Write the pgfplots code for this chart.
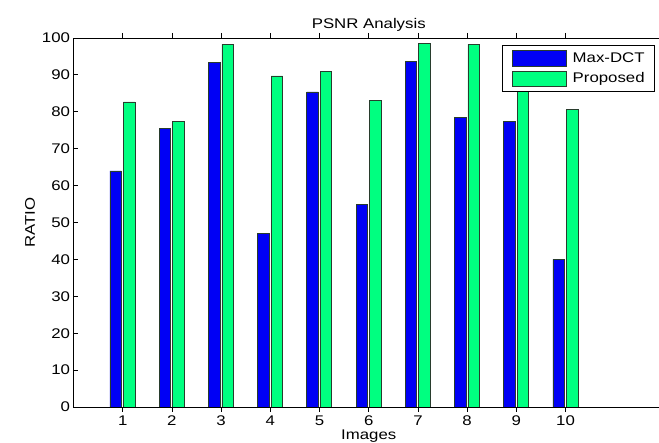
\documentclass[border=0pt]{standalone}
\usepackage{fontspec}
\setmainfont{Liberation Sans}[FakeStretch=1.2]
\usepackage{pgfplots}
\pgfplotsset{compat=1.18}

\definecolor{mblue}{RGB}{0,0,245}
\definecolor{mgreen}{RGB}{0,255,128}
\definecolor{edge}{RGB}{40,60,45}

\begin{document}
\begin{tikzpicture}[x=1pt,y=1pt]
\begin{axis}[
  name=ax,
  at={(0,0)}, anchor=south west,
  scale only axis,
  width=590.5pt, height=369pt,
  xmin=0, xmax=12, ymin=0, ymax=100,
  xtick={1,...,10},
  ytick={0,10,...,100},
  tick align=inside,
  major tick length=5pt,
  tick style={black, line width=0.8pt},
  axis line style={black, line width=0.8pt},
  axis on top,
  font=\fontsize{14}{16}\selectfont,
  /pgf/number format/assume math mode=true,
  title={PSNR Analysis},
  title style={yshift=-3pt},
  xlabel={Images},
  xlabel style={yshift=2.5pt},
  ylabel={RATIO},
  ybar,
  bar width=11.5pt,
  legend image code/.code={\draw[#1] (0pt,-7.8pt) rectangle (54pt,7.8pt);},
  legend style={at={(0.9848,0.9802)}, anchor=north east, draw=black,
    line width=0.8pt, fill=white, inner xsep=10pt, inner ysep=2.5pt,
    font=\fontsize{14}{16}\selectfont,
    nodes={inner xsep=0pt, inner ysep=3.5pt, text height=10.5pt, text depth=3pt},
    /tikz/every odd column/.append style={column sep=6pt}},
  legend cell align=left,
]
\addplot[fill=mblue, draw=edge, line width=0.6pt, bar shift=-7pt] coordinates {
  (1,64.0) (2,75.5) (3,93.3) (4,47.1) (5,85.4)
  (6,55.0) (7,93.6) (8,78.4) (9,77.5) (10,40.0)};
\addlegendentry{Max-DCT}
\addplot[fill=mgreen, draw=edge, line width=0.6pt, bar shift=6.5pt] coordinates {
  (1,82.7) (2,77.5) (3,98.3) (4,89.7) (5,90.9)
  (6,83.0) (7,98.6) (8,98.3) (9,88.0) (10,80.7)};
\addlegendentry{Proposed}
\end{axis}
\pgfresetboundingbox
\path[use as bounding box] (-73.5pt,-36pt) rectangle (585.5pt,407pt);
\end{tikzpicture}
\end{document}
